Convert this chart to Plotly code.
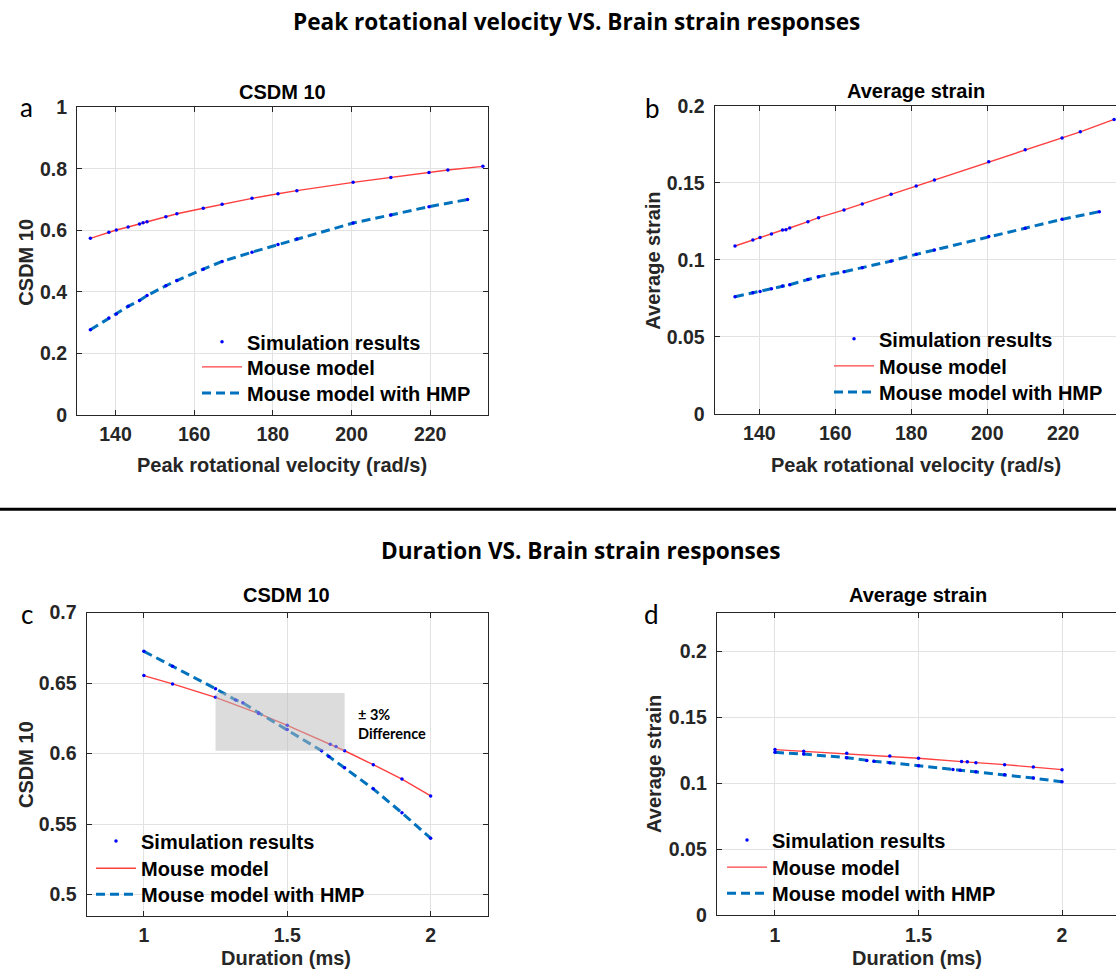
import plotly.graph_objects as go

W, H = 1116, 977

# ---------------- data ----------------
# Peak rotational velocity (rad/s) - mouse model
vel_mouse = [133.6, 138.3, 140.2, 143.2, 146.1, 147.0, 148.0, 152.8, 155.6, 162.3,
             167.1, 174.7, 181.3, 186.1, 200.4, 210.0, 219.7, 224.5, 233.4]
csdm_mouse_vel = [0.574, 0.594, 0.601, 0.611, 0.621, 0.625, 0.628, 0.644, 0.654, 0.672,
                  0.685, 0.704, 0.719, 0.729, 0.756, 0.772, 0.788, 0.796, 0.808]
strain_mouse_vel = [0.1090, 0.1129, 0.1146, 0.1168, 0.1194, 0.1196, 0.1207, 0.1248, 0.1274, 0.1324,
                    0.1363, 0.1426, 0.1480, 0.1519, 0.1636, 0.1714, 0.1790, 0.1831, 0.1911]

# Peak rotational velocity (rad/s) - mouse model with HMP
vel_hmp = [133.6, 138.3, 140.2, 143.2, 146.1, 148.0, 152.8, 155.6, 162.3, 167.1,
           174.7, 181.3, 186.1, 200.4, 210.0, 219.7, 229.5]
csdm_hmp_vel = [0.277, 0.315, 0.328, 0.353, 0.372, 0.388, 0.420, 0.437, 0.474, 0.499,
                0.529, 0.554, 0.572, 0.624, 0.650, 0.677, 0.700]
strain_hmp_vel = [0.0761, 0.0787, 0.0795, 0.0812, 0.0830, 0.0839, 0.0873, 0.0891, 0.0923, 0.0949,
                  0.0992, 0.1036, 0.1064, 0.1151, 0.1205, 0.1263, 0.1313]

# Duration (ms) - mouse model
dur_mouse = [1.0, 1.1, 1.25, 1.4, 1.5, 1.65, 1.67, 1.7, 1.8, 1.9, 2.0]
csdm_mouse_dur = [0.6553, 0.6494, 0.6399, 0.6285, 0.6200, 0.6067, 0.6050, 0.6020, 0.5921, 0.5819, 0.5700]
strain_mouse_dur = [0.1256, 0.1243, 0.1228, 0.1208, 0.1190, 0.1165, 0.1163, 0.1157, 0.1142, 0.1124, 0.1104]

# Duration (ms) - mouse model with HMP
dur_hmp = [1.0, 1.1, 1.25, 1.32, 1.345, 1.4, 1.5, 1.62, 1.645, 1.7, 1.8, 1.9, 2.0]
csdm_hmp_dur = [0.6725, 0.662, 0.646, 0.638, 0.636, 0.629, 0.617, 0.602, 0.598, 0.590, 0.575, 0.558, 0.540]
strain_hmp_dur = [0.1235, 0.1222, 0.1195, 0.1173, 0.1168, 0.1157, 0.1133, 0.1106, 0.1099, 0.1088, 0.1066, 0.1040, 0.1012]

# +/-3% difference band in panel c
band_dur = [1.25, 1.7]
band_csdm = [0.602, 0.643]

ticks_vel = [140, 160, 180, 200, 220]
ticks_dur = [1, 1.5, 2]
ticks_csdm_a = [0, 0.2, 0.4, 0.6, 0.8, 1]
ticks_strain = [0, 0.05, 0.1, 0.15, 0.2]
ticks_csdm_c = [0.5, 0.55, 0.6, 0.65, 0.7]

# ---------------- styling helpers ----------------
def px(x):
    return x / W

def py(y):
    # target pixel row -> paper fraction (with vertical calibration)
    yl = (y - 12.0) / 0.975
    yl = min(max(yl, 0), H)
    return 1 - yl / H

RED = "rgb(255,64,64)"
BLUE = "#0072BD"
DOT = "rgb(0,0,255)"
AX = "#262626"
GRID = "#E2E2E2"
TICKFONT = dict(family="Liberation Sans, Arial, sans-serif", size=19.5, color=AX, weight="bold")
LABFONT = dict(family="Liberation Sans, Arial, sans-serif", size=20, color=AX, weight="bold")

fig = go.Figure()

panels = [
    ("x", "y", ("legend", "legend2", "legend3"), vel_mouse, csdm_mouse_vel, vel_hmp, csdm_hmp_vel),
    ("x2", "y2", ("legend4", "legend5", "legend6"), vel_mouse, strain_mouse_vel, vel_hmp, strain_hmp_vel),
    ("x3", "y3", ("legend7", "legend8", "legend9"), dur_mouse, csdm_mouse_dur, dur_hmp, csdm_hmp_dur),
    ("x4", "y4", ("legend10", "legend11", "legend12"), dur_mouse, strain_mouse_dur, dur_hmp, strain_hmp_dur),
]

for xa, ya, (lg_s, lg_m, lg_h), xm, ym, xh, yh in panels:
    fig.add_trace(go.Scatter(x=xm, y=ym, mode="lines", name="Mouse model",
                             line=dict(color=RED, width=1.4), xaxis=xa, yaxis=ya,
                             legend=lg_m))
    fig.add_trace(go.Scatter(x=xh, y=yh, mode="lines", name="Mouse model with HMP",
                             line=dict(color=BLUE, width=3, dash="9px,5px"), xaxis=xa, yaxis=ya,
                             legend=lg_h))
    fig.add_trace(go.Scatter(x=xm, y=ym, mode="markers", name="Simulation results",
                             marker=dict(color=DOT, size=3.5), xaxis=xa, yaxis=ya,
                             legend=lg_s))
    fig.add_trace(go.Scatter(x=xh, y=yh, mode="markers", name="Simulation results",
                             marker=dict(color=DOT, size=3.5), xaxis=xa, yaxis=ya,
                             legend=lg_s, showlegend=False))

def axis(domain, rng, tickvals, anchor, standoff, mirror="ticks"):
    return dict(domain=domain, range=rng, tickvals=tickvals, anchor=anchor,
                showline=True, linecolor=AX, linewidth=1, mirror=mirror,
                ticks="inside", ticklen=5, tickcolor=AX, tickwidth=1,
                showgrid=True, gridcolor=GRID, gridwidth=1, zeroline=False,
                tickfont=TICKFONT, ticklabelstandoff=standoff)

layout = dict(
    width=W, height=H, margin=dict(l=0, r=0, t=0, b=0),
    paper_bgcolor="white", plot_bgcolor="white",
    xaxis=axis([px(77), px(488)], [130.2, 234.7], ticks_vel, "y", 2),
    yaxis=axis([py(415), py(108)], [0, 1], ticks_csdm_a, "x", 5),
    xaxis2=axis([px(714.5), 1.0], [128.2, 233.9], ticks_vel, "y2", 2),
    yaxis2=axis([py(414), py(106.5)], [0, 0.2], ticks_strain, "x2", 5, mirror=False),
    xaxis3=axis([px(86.5), px(488)], [0.8, 2.2], ticks_dur, "y3", 2),
    yaxis3=axis([py(914.5), py(612)], [0.485, 0.7], ticks_csdm_c, "x3", 5),
    xaxis4=axis([px(716.7), 1.0], [0.797, 2.188], ticks_dur, "y4", 2),
    yaxis4=axis([py(914), py(612)], [0, 0.2295], ticks_strain, "x4", 5, mirror=False),
)

legfont = dict(family="Liberation Sans, Arial, sans-serif", size=20, color="#000000", weight="bold")
def leg(text_x, center_y):
    return dict(x=px(text_x - 51), y=py(center_y), xanchor="left", yanchor="middle",
                bgcolor="rgba(0,0,0,0)", borderwidth=0, font=legfont, itemwidth=40)

legend_rows = {
    ("legend", "legend2", "legend3"): (248, [342, 367, 393]),
    ("legend4", "legend5", "legend6"): (880, [339, 366, 392]),
    ("legend7", "legend8", "legend9"): (142, [840, 867, 893]),
    ("legend10", "legend11", "legend12"): (773, [839, 866, 892]),
}
for ids, (tx, ys) in legend_rows.items():
    for lid, yc in zip(ids, ys):
        layout[lid] = leg(tx, yc)

fig.update_layout(**layout)

# difference band
fig.add_shape(type="rect", xref="x3", yref="y3", x0=band_dur[0], x1=band_dur[1],
              y0=band_csdm[0], y1=band_csdm[1], line=dict(width=0),
              fillcolor="rgba(185,185,185,0.5)", layer="above")

# separator line
fig.add_shape(type="line", xref="paper", yref="paper", x0=0, x1=1, y0=py(509), y1=py(509),
              line=dict(color="black", width=3))

ann = []
def text(x, y, s, font, xanchor="center", yanchor="middle", angle=0, align="center"):
    ann.append(dict(x=px(x), y=py(y), xref="paper", yref="paper", text=s, showarrow=False,
                    font=font, xanchor=xanchor, yanchor=yanchor, textangle=angle, align=align))

secfont = dict(family="Open Sans, sans-serif", size=22.6, color="#000000", weight="bold")
text(576, 22, "Peak rotational velocity VS. Brain strain responses", secfont)
text(580, 550, "Duration VS. Brain strain responses", secfont)

titfont = dict(family="Liberation Sans, Arial, sans-serif", size=20, color="#000000", weight="bold")
text(282, 93, "CSDM 10", titfont)
text(916, 92, "Average strain", titfont)
text(286, 595, "CSDM 10", titfont)
text(918, 595, "Average strain", titfont)

letfont = dict(family="Lato, sans-serif", size=26, color="#000000")
text(26, 108, "a", letfont)
text(652, 109, "b", letfont)
text(27, 613, "c", letfont)
text(651, 613, "d", letfont)

text(282, 465, "Peak rotational velocity (rad/s)", LABFONT)
text(916, 465, "Peak rotational velocity (rad/s)", LABFONT)
text(286, 957, "Duration (ms)", LABFONT)
text(917, 957, "Duration (ms)", LABFONT)

text(26, 263, "CSDM 10", LABFONT, angle=-90)
text(653, 261, "Average strain", LABFONT, angle=-90)
text(26, 764, "CSDM 10", LABFONT, angle=-90)
text(654, 763, "Average strain", LABFONT, angle=-90)

notefont = dict(family="Lato, sans-serif", size=14.5, color="#000000", weight="bold")
text(356, 723, "± 3%<br>Difference", notefont, xanchor="left", align="left")

fig.update_layout(annotations=ann)

fig.write_html(
    "out.html",
    config={"displayModeBar": False},
    post_script="document.body.style.margin='0px';document.body.style.padding='0px';"
                "document.documentElement.style.overflow='hidden';",
)
